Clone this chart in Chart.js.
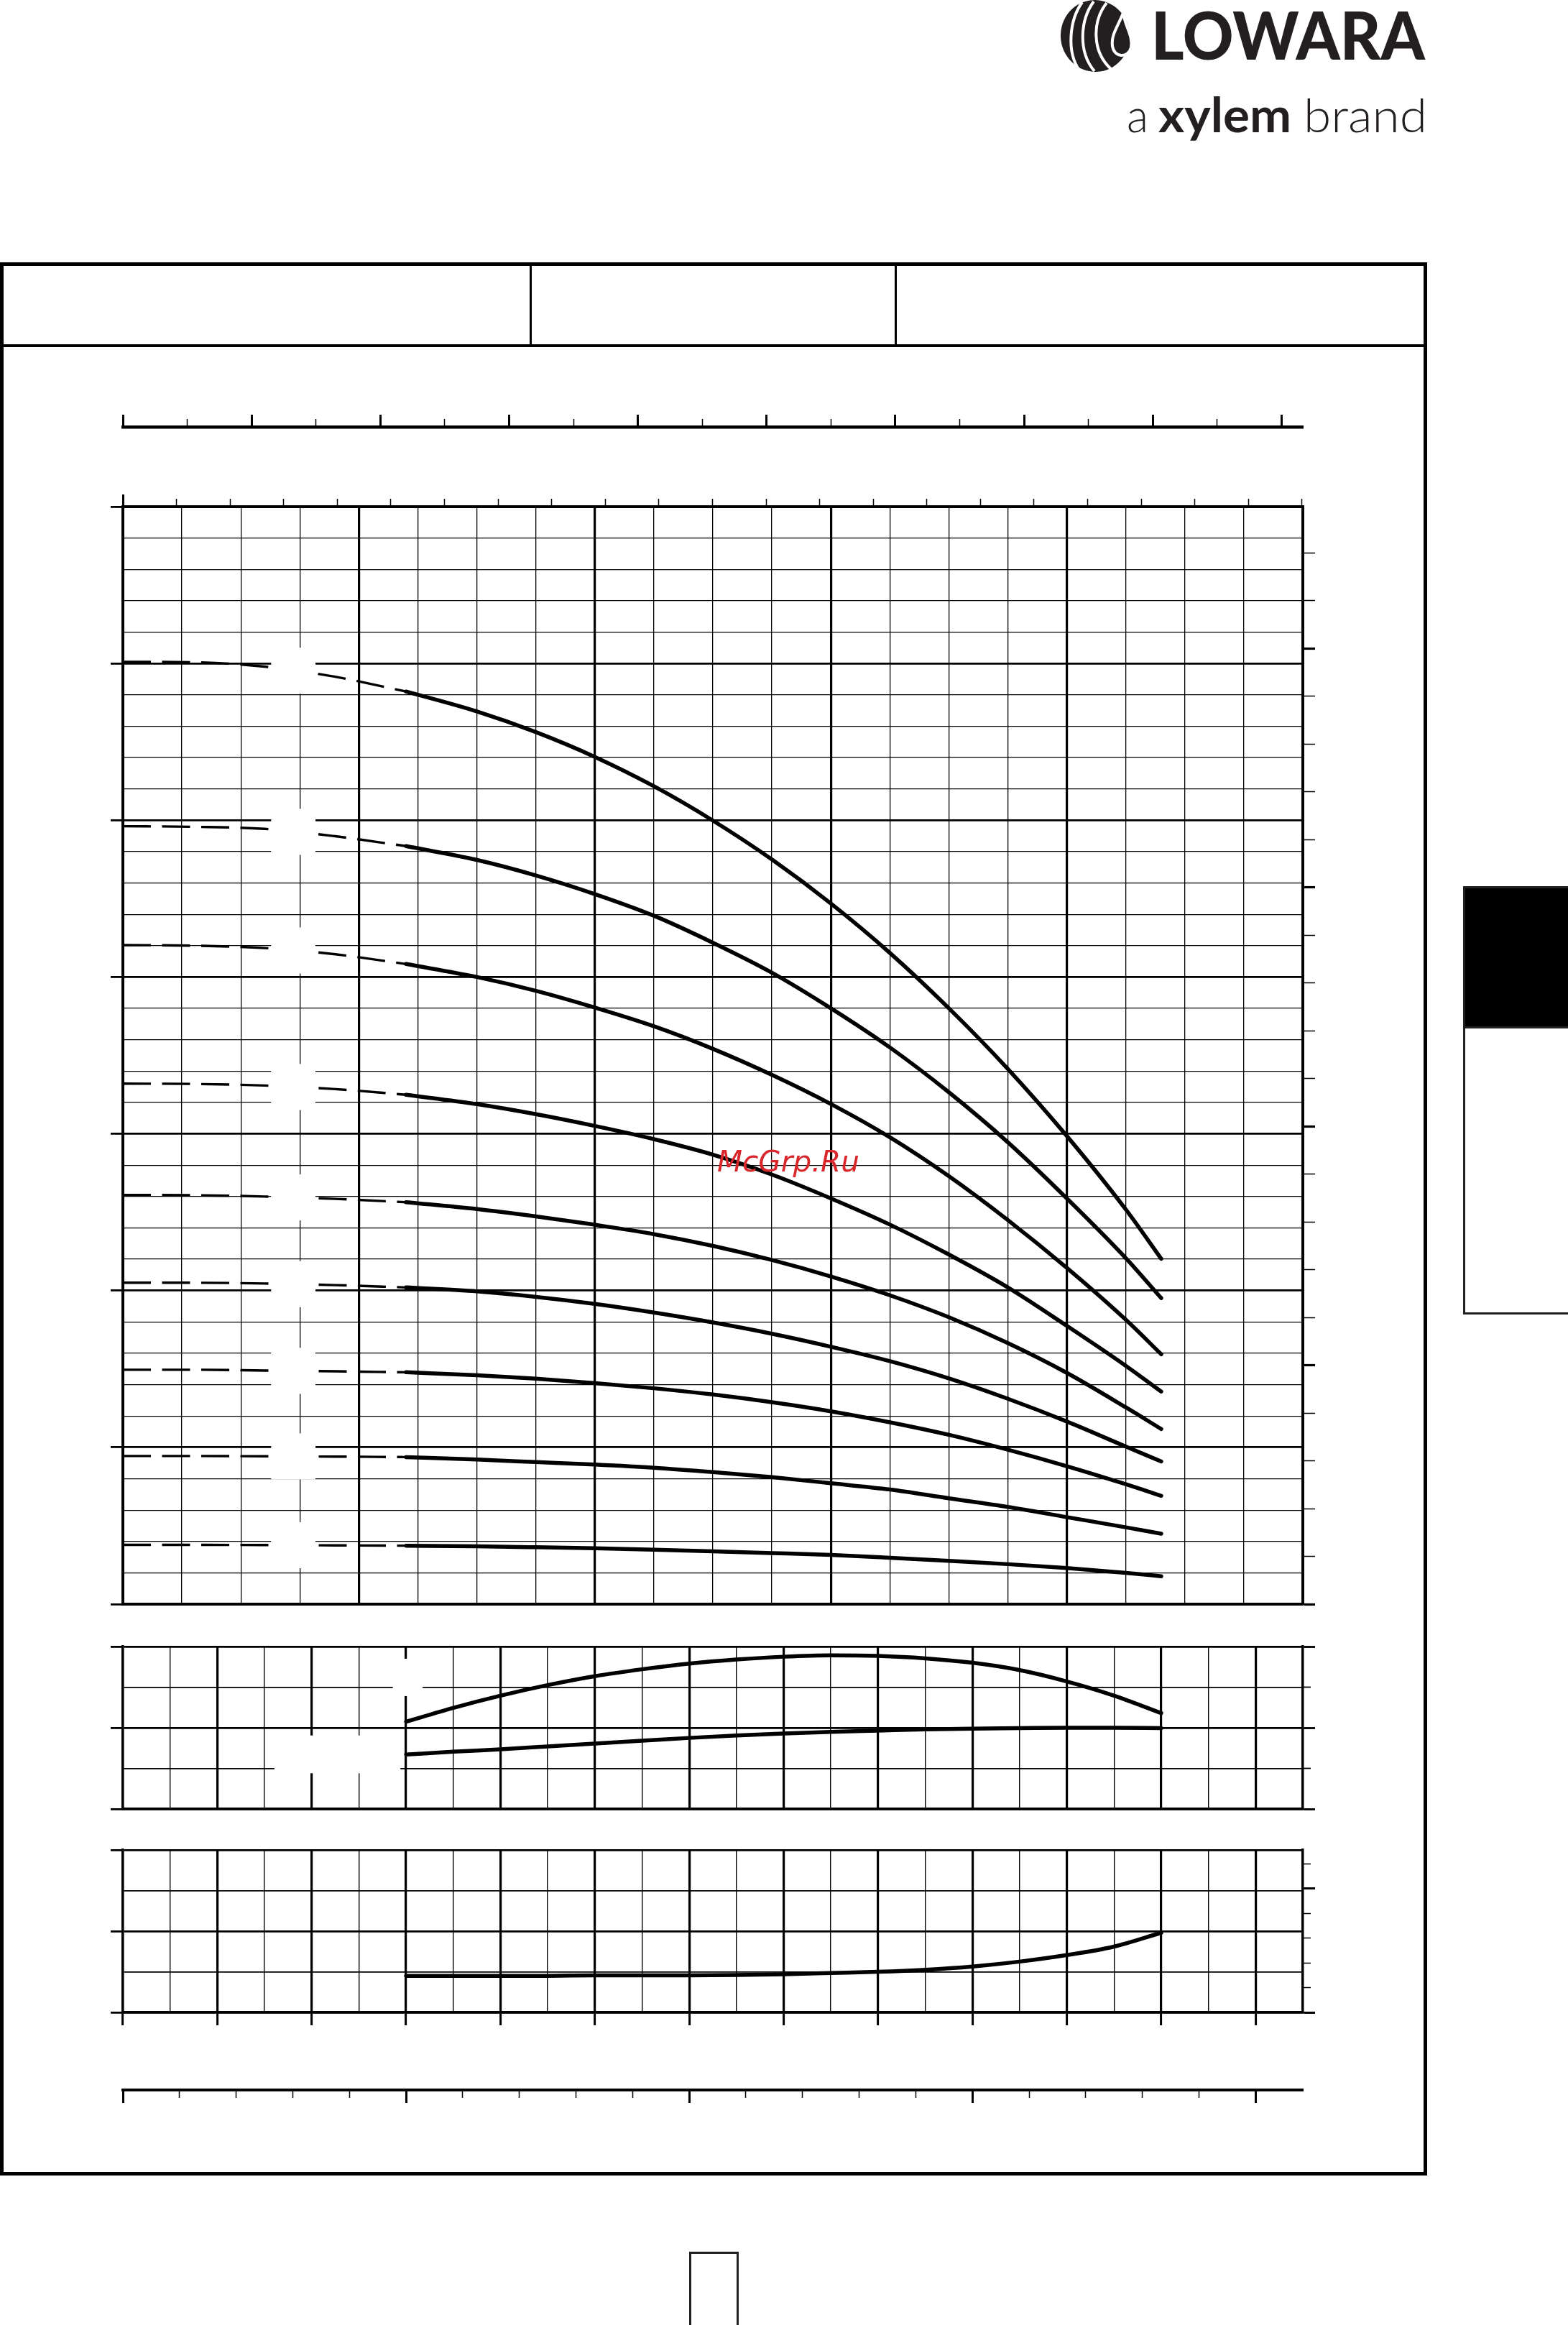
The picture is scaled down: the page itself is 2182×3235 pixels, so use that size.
<!DOCTYPE html>
<html>
<head>
<meta charset="utf-8">
<script src="https://cdn.jsdelivr.net/npm/chart.js@4.4.1/dist/chart.umd.min.js"></script>
<style>
html,body{margin:0;padding:0;background:#fff;}
body{width:2182px;height:3235px;position:relative;overflow:hidden;}
.abs{position:absolute;box-sizing:border-box;}
canvas{position:absolute;}
svg{position:absolute;left:0;top:0;overflow:visible;}
</style>
</head>
<body>
<!-- page frame and header table -->
<div class="abs" style="left:0;top:365px;width:1986px;height:2662px;border:5px solid #000;"></div>
<div class="abs" style="left:0;top:479px;width:1986px;height:4px;background:#000;"></div>
<div class="abs" style="left:737px;top:367px;width:3px;height:114px;background:#000;"></div>
<div class="abs" style="left:1245px;top:367px;width:3px;height:114px;background:#000;"></div>
<!-- side tab -->
<div class="abs" style="left:2036px;top:1233px;width:200px;height:596px;border:3px solid #231f20;"></div>
<div class="abs" style="left:2036px;top:1233px;width:200px;height:198px;background:#000;border:3px solid #231f20;"></div>
<!-- page number box -->
<div class="abs" style="left:959px;top:3133px;width:69px;height:130px;border:3px solid #231f20;"></div>

<canvas id="cMain" width="1860" height="1700" style="left:0;top:560px;width:1860px;height:1700px;"></canvas>
<canvas id="cEff" width="1860" height="270" style="left:0;top:2270px;width:1860px;height:270px;"></canvas>
<canvas id="cNpsh" width="1860" height="400" style="left:0;top:2550px;width:1860px;height:400px;"></canvas>

<!-- logo -->
<svg width="2182" height="230" viewBox="0 0 2182 230">
  <g transform="rotate(-8 1524 50)">
    <ellipse cx="1524" cy="50" rx="48" ry="50" fill="#231f20"/>
  </g>
  <path d="M1506,3 C1488,28 1484,72 1502,98" stroke="#fff" stroke-width="4" fill="none"/>
  <path d="M1522,2 C1503,28 1500,72 1523,99" stroke="#fff" stroke-width="4" fill="none"/>
  <path d="M1540,4 C1521,28 1518,70 1546,96" stroke="#fff" stroke-width="4" fill="none"/>
  <path d="M1563,18 C1556,36 1546,48 1548,64 C1550,80 1570,82 1574,66 C1577,50 1566,38 1563,18 Z" stroke="#fff" stroke-width="4" fill="#231f20"/>
  <text x="1602" y="83" font-family="Lato, 'DejaVu Sans', sans-serif" font-weight="900" font-size="92" fill="#231f20" textLength="381" lengthAdjust="spacingAndGlyphs">LOWARA</text>
  <text x="1568" y="184" font-family="Lato, 'Open Sans', sans-serif" font-weight="300" font-size="66" fill="#231f20" textLength="30" lengthAdjust="spacingAndGlyphs">a</text>
  <text x="1612" y="184" font-family="Lato, 'Open Sans', sans-serif" font-weight="700" font-size="66" fill="#231f20" textLength="185" lengthAdjust="spacingAndGlyphs">xylem</text>
  <text x="1814" y="184" font-family="Lato, 'Open Sans', sans-serif" font-weight="300" font-size="66" fill="#231f20" textLength="172" lengthAdjust="spacingAndGlyphs">brand</text>
</svg>
<!-- watermark -->
<svg width="2182" height="3235" viewBox="0 0 2182 3235" style="pointer-events:none;">
  <text x="998" y="1630" font-family="'DejaVu Sans', sans-serif" font-style="italic" font-size="40" fill="#d8262b" textLength="198" lengthAdjust="spacingAndGlyphs">McGrp.Ru</text>
</svg>

<script>
// ---------------- DATA ----------------
// Q in m3/h (full scale 25 m3/h), H in m
const Q_MAX = 25;
const H_MAX = 70;
const Q_DASH = [0, 1.5, 3, 4.5, 6];
const Q_SOLID = [6, 7.5, 8.75, 10, 11.25, 12.5, 13.75, 15, 16.25, 17.5, 18.75, 20, 21.25, 22];

const H1_DASH = [60.1, 60.08, 59.8, 59.15, 58.21];
const H1 = [58.21, 56.94, 55.62, 54.04, 52.17, 49.98, 47.5, 44.69, 41.54, 38.01, 34.14, 29.86, 25.17, 22.03];
const H2_DASH = [49.62, 49.58, 49.45, 48.98, 48.35];
const H2 = [48.35, 47.47, 46.48, 45.29, 43.91, 42.19, 40.28, 38.01, 35.51, 32.65, 29.46, 25.88, 22.07, 19.52];
const H3_DASH = [42.04, 42.0, 41.85, 41.45, 40.83];
const H3 = [40.83, 40.0, 39.12, 38.05, 36.86, 35.42, 33.76, 31.9, 29.78, 27.3, 24.5, 21.45, 18.14, 15.94];
const H4_DASH = [33.2, 33.18, 33.08, 32.85, 32.49];
const H4 = [32.49, 31.89, 31.25, 30.5, 29.66, 28.67, 27.4, 25.88, 24.21, 22.3, 20.2, 17.75, 15.2, 13.56];
const H5_DASH = [26.1, 26.08, 26.0, 25.85, 25.64];
const H5 = [25.64, 25.2, 24.73, 24.2, 23.6, 22.85, 21.95, 20.9, 19.7, 18.3, 16.65, 14.75, 12.55, 11.17];
const H6_DASH = [20.5, 20.5, 20.45, 20.35, 20.2];
const H6 = [20.2, 19.95, 19.6, 19.15, 18.6, 17.97, 17.25, 16.42, 15.5, 14.4, 13.1, 11.65, 10.05, 9.1];
const H7_DASH = [14.95, 14.95, 14.9, 14.85, 14.79];
const H7 = [14.79, 14.6, 14.38, 14.1, 13.77, 13.37, 12.88, 12.3, 11.6, 10.8, 9.85, 8.8, 7.65, 6.91];
const H8_DASH = [9.45, 9.45, 9.43, 9.41, 9.38];
const H8 = [9.38, 9.22, 9.06, 8.9, 8.7, 8.42, 8.1, 7.71, 7.31, 6.75, 6.2, 5.55, 4.9, 4.49];
const H9_DASH = [3.78, 3.78, 3.77, 3.75, 3.73];
const H9 = [3.73, 3.69, 3.63, 3.56, 3.47, 3.37, 3.26, 3.14, 2.96, 2.76, 2.55, 2.3, 1.99, 1.78];

// lower panels
const Q_PERF = [6, 7, 8, 9, 10, 11, 12, 13, 14, 15, 16, 17, 18, 19, 20, 21, 22];
const ETA = [43.0, 49.8, 55.8, 61.0, 65.4, 68.8, 71.6, 73.6, 75.0, 75.7, 75.4, 74.2, 72.0, 68.4, 62.8, 55.8, 47.2];   // %
const P2 = [1.34, 1.41, 1.47, 1.54, 1.61, 1.68, 1.75, 1.81, 1.86, 1.9, 1.93, 1.96, 1.98, 1.99, 2.0, 2.0, 1.99];     // kW
const NPSH = [0.9, 0.9, 0.9, 0.9, 0.91, 0.91, 0.91, 0.92, 0.94, 0.97, 1.0, 1.05, 1.13, 1.25, 1.41, 1.62, 1.96];     // m

// unit conversions for secondary axes
const US_GPM_PER_M3H = 4.40287;
const IMP_GPM_PER_M3H = 3.66614;
const LMIN_PER_M3H = 1000 / 60;
const FT_PER_M = 1 / 0.3048;

// ---------------- HELPERS ----------------
const BLACK = '#000';
const CLEAR = 'rgba(0,0,0,0)';
const SOLID_W = 5.5;
const DASH_W = 3.4;
const onStep = step => s => { s.ticks = s.ticks.filter(t => Math.abs(t.value / step - Math.round(t.value / step)) < 1e-6); };
const isMul = (v, m) => Math.abs(v / m - Math.round(v / m)) < 1e-6;
const pts = (qs, vs) => qs.map((q, i) => ({x: q, y: vs[i]}));
function interp(xs, ys, x) {
  for (let i = 1; i < xs.length; i++) {
    if (x <= xs[i]) { const t = (x - xs[i - 1]) / (xs[i] - xs[i - 1]); return ys[i - 1] + t * (ys[i] - ys[i - 1]); }
  }
  return ys[ys.length - 1];
}
// decorative tick-only axis
function tickAxis(position, weight, min, max, step, len, width, size, border) {
  return {
    type: 'linear', position, weight, min, max, bounds: 'data',
    ticks: {display: false, stepSize: step, includeBounds: false},
    afterBuildTicks: onStep(step),
    afterFit: s => { if (position === 'top' || position === 'bottom') s.height = size; else s.width = size; },
    grid: {drawOnChartArea: false, drawTicks: true, tickLength: len, tickWidth: width, tickColor: BLACK},
    border: {display: !!border, width: border || 0, color: BLACK}
  };
}

const labelBoxPlugin = {
  id: 'labelBoxes',
  afterDatasetsDraw(chart, args, opts) {
    const ctx = chart.ctx;
    ctx.save();
    ctx.fillStyle = '#fff';
    for (const b of (opts.boxes || [])) {
      const xs = chart.scales[b.xAxis || 'x'];
      const ys = chart.scales[b.yAxis || 'y'];
      const x0 = xs.getPixelForValue(b.x0), x1 = xs.getPixelForValue(b.x1);
      const y0 = ys.getPixelForValue(b.y1), y1 = ys.getPixelForValue(b.y0);
      ctx.fillRect(x0, y0, x1 - x0, y1 - y0);
    }
    ctx.restore();
  }
};

const baseOpts = {
  responsive: false, animation: false, devicePixelRatio: 1, events: [],
  elements: {point: {radius: 0}}
};

// ---------------- MAIN H-Q CHART ----------------
const CURVES = [[H1_DASH, H1], [H2_DASH, H2], [H3_DASH, H3], [H4_DASH, H4], [H5_DASH, H5],
                [H6_DASH, H6], [H7_DASH, H7], [H8_DASH, H8], [H9_DASH, H9]];
const mainDatasets = [];
const mainBoxes = [];
const LABEL_Q0 = 3.14, LABEL_Q1 = 4.08, LABEL_QC = 3.6, LABEL_HALF_H = 1.47;
CURVES.forEach(([hd, hs]) => {
  mainDatasets.push({data: pts(Q_DASH, hd), borderColor: BLACK, borderWidth: DASH_W, borderDash: [39, 15.5],
    borderCapStyle: 'butt', fill: false, pointRadius: 0, cubicInterpolationMode: 'monotone'});
  mainDatasets.push({data: pts(Q_SOLID, hs), borderColor: BLACK, borderWidth: SOLID_W,
    borderCapStyle: 'round', fill: false, pointRadius: 0, cubicInterpolationMode: 'monotone'});
  const hc = interp(Q_DASH, hd, LABEL_QC);
  mainBoxes.push({x0: LABEL_Q0, x1: LABEL_Q1, y0: hc - LABEL_HALF_H, y1: hc + LABEL_HALF_H});
});

new Chart(document.getElementById('cMain'), {
  type: 'line',
  data: {datasets: mainDatasets},
  options: Object.assign({}, baseOpts, {
    layout: {padding: {left: 0, top: 0, right: 17, bottom: 28}},
    plugins: {legend: {display: false}, tooltip: {enabled: false}, labelBoxes: {boxes: mainBoxes}},
    scales: {
      x: {type: 'linear', position: 'bottom', min: 0, max: Q_MAX,
        ticks: {display: false, stepSize: 1.25, includeBounds: false},
        afterFit: s => { s.height = 0; },
        grid: {drawTicks: false, color: BLACK, lineWidth: c => (c.index % 4 === 0 ? 3.2 : 1.3)},
        border: {display: true, width: 4, color: BLACK}},
      y: {type: 'linear', position: 'left', min: 0, max: H_MAX,
        ticks: {display: false, stepSize: 2, includeBounds: false},
        afterFit: s => { s.width = 171; },
        grid: {color: BLACK, drawTicks: true, tickLength: 17,
          lineWidth: c => (c.tick && isMul(c.tick.value, 10) ? 2.8 : 1.2),
          tickWidth: 2.8,
          tickColor: c => (c.tick && isMul(c.tick.value, 10) ? BLACK : CLEAR)},
        border: {display: true, width: 4, color: BLACK}},
      yFt: {type: 'linear', position: 'right', min: 0, max: H_MAX * FT_PER_M, bounds: 'data',
        ticks: {display: false, stepSize: 10, includeBounds: false},
        afterBuildTicks: onStep(10),
        afterFit: s => { s.width = 30; },
        grid: {drawOnChartArea: false, drawTicks: true, tickLength: 17, tickColor: BLACK,
          tickWidth: c => (c.tick && isMul(c.tick.value, 50) ? 3.2 : 1.5)},
        border: {display: true, width: 4, color: BLACK}},
      usMin: tickAxis('top', 1, 0, Q_MAX * US_GPM_PER_M3H, 5, 11, 1.5, 0, 0),
      usMaj: tickAxis('top', 2, 0, Q_MAX * US_GPM_PER_M3H, 10, 17, 3, 111, 4),
      impMin: tickAxis('top', 3, 0, Q_MAX * IMP_GPM_PER_M3H, 5, 11, 1.5, 0, 0),
      impMaj: tickAxis('top', 4, 0, Q_MAX * IMP_GPM_PER_M3H, 10, 17, 3, 34, 4.5)
    }
  }),
  plugins: [labelBoxPlugin]
});

// ---------------- EFFICIENCY / POWER PANEL ----------------
new Chart(document.getElementById('cEff'), {
  type: 'line',
  data: {datasets: [
    {data: pts(Q_PERF, ETA), yAxisID: 'y', borderColor: BLACK, borderWidth: SOLID_W, borderCapStyle: 'round',
      fill: false, pointRadius: 0, cubicInterpolationMode: 'monotone'},
    {data: pts(Q_PERF, P2), yAxisID: 'yP', borderColor: BLACK, borderWidth: SOLID_W, borderCapStyle: 'round',
      fill: false, pointRadius: 0, cubicInterpolationMode: 'monotone'}
  ]},
  options: Object.assign({}, baseOpts, {
    layout: {padding: {left: 0, top: 21, right: 17, bottom: 23}},
    plugins: {legend: {display: false}, tooltip: {enabled: false},
      labelBoxes: {boxes: [
        {x0: 5.72, x1: 6.35, y0: 55.6, y1: 74.0},
        {x0: 3.21, x1: 5.88, y0: 17.6, y1: 36.2}
      ]}},
    scales: {
      x: {type: 'linear', position: 'bottom', min: 0, max: Q_MAX,
        ticks: {display: false, stepSize: 1, includeBounds: false},
        afterFit: s => { s.height = 0; },
        grid: {drawTicks: false, color: BLACK, lineWidth: c => (c.index % 2 === 0 ? 3.2 : 1.4)},
        border: {display: true, width: 3.5, color: BLACK}},
      y: {type: 'linear', position: 'left', min: 0, max: 80,
        ticks: {display: false, stepSize: 20, includeBounds: false},
        afterFit: s => { s.width = 171; },
        grid: {color: BLACK, drawTicks: true, tickLength: 17,
          lineWidth: c => (c.tick && isMul(c.tick.value, 40) ? 2.8 : 1.8),
          tickWidth: 2.8,
          tickColor: c => (c.tick && isMul(c.tick.value, 40) ? BLACK : CLEAR)},
        border: {display: true, width: 3.5, color: BLACK}},
      yP: {type: 'linear', position: 'left', min: 0, max: 4, display: false},
      yR1: tickAxis('right', 0, 0, 80, 40, 17, 2.8, 0, 3.5),
      yR2: tickAxis('right', 1, 0, 80, 20, 11, 1.8, 30, 0)
    }
  }),
  plugins: [labelBoxPlugin]
});

// ---------------- NPSH PANEL + l/min AXIS ----------------
new Chart(document.getElementById('cNpsh'), {
  type: 'line',
  data: {datasets: [
    {data: pts(Q_PERF, NPSH), borderColor: BLACK, borderWidth: SOLID_W, borderCapStyle: 'round',
      fill: false, pointRadius: 0, cubicInterpolationMode: 'monotone'}
  ]},
  options: Object.assign({}, baseOpts, {
    layout: {padding: {left: 0, top: 24, right: 17, bottom: 42}},
    plugins: {legend: {display: false}, tooltip: {enabled: false}},
    scales: {
      x: {type: 'linear', position: 'bottom', weight: 0, min: 0, max: Q_MAX,
        ticks: {display: false, stepSize: 1, includeBounds: false},
        afterFit: s => { s.height = 108; },
        grid: {color: BLACK, drawTicks: true, tickLength: 18, tickWidth: 3,
          lineWidth: c => (c.index % 2 === 0 ? 3.2 : 1.4),
          tickColor: c => (c.index % 2 === 0 && c.tick && c.tick.value < Q_MAX ? BLACK : CLEAR)},
        border: {display: true, width: 3.5, color: BLACK}},
      lpmMaj: tickAxis('bottom', 1, 0, Q_MAX * LMIN_PER_M3H, 100, 18, 3, 0, 4),
      lpmMin: tickAxis('bottom', 2, 0, Q_MAX * LMIN_PER_M3H, 20, 11, 1.5, 0, 0),
      y: {type: 'linear', position: 'left', min: 0, max: 4,
        ticks: {display: false, stepSize: 1, includeBounds: false},
        afterFit: s => { s.width = 171; },
        grid: {color: BLACK, drawTicks: true, tickLength: 17,
          lineWidth: c => (c.tick && isMul(c.tick.value, 2) ? 2.8 : 1.8),
          tickWidth: 2.8,
          tickColor: c => (c.tick && isMul(c.tick.value, 2) ? BLACK : CLEAR)},
        border: {display: true, width: 3.5, color: BLACK}},
      yFtMaj: tickAxis('right', 0, 0, 4 * FT_PER_M, 10, 17, 3, 0, 3.5),
      yFtMin: tickAxis('right', 1, 0, 4 * FT_PER_M, 2, 11, 1.5, 30, 0)
    }
  })
});
</script>
</body>
</html>
